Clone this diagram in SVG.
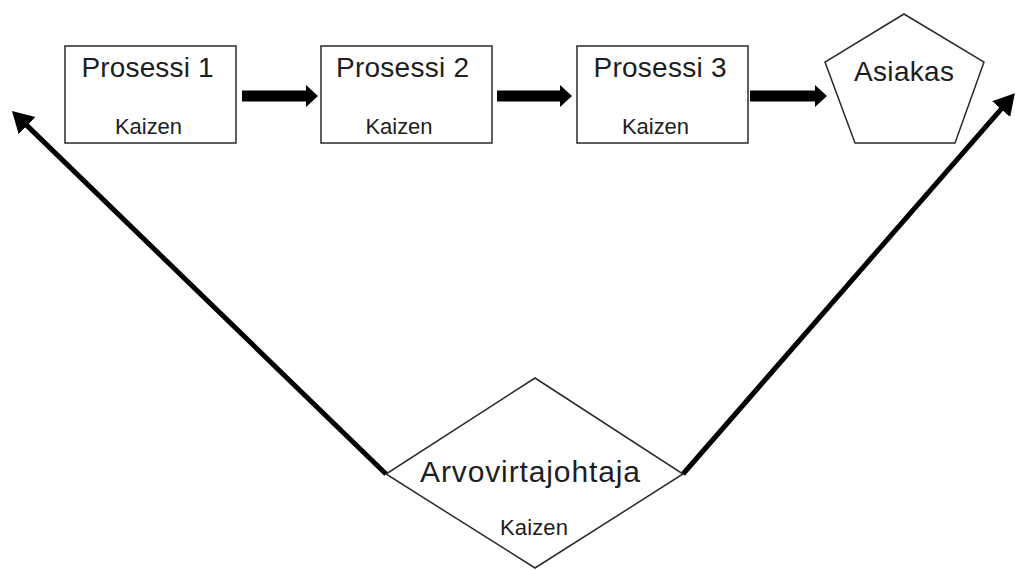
<svg xmlns="http://www.w3.org/2000/svg" width="1017" height="570" viewBox="0 0 1017 570">
<style>
.shape{fill:#fff;stroke:#2a2a2a;stroke-width:1.5}
.t{font-family:"Liberation Sans",Arial,sans-serif;fill:#1e1e1e;text-anchor:middle}
.big{font-size:28px}
.small{font-size:22px}
.flow{fill:#000}
.diag{stroke:#000;stroke-width:5;fill:none}
</style>
<defs>
<marker id="head" markerUnits="userSpaceOnUse" markerWidth="24" markerHeight="26" refX="9" refY="12" orient="auto">
<path d="M0,0 L21,12 L0,24 z" fill="#000"/>
</marker>
</defs>
<rect width="1017" height="570" fill="#fff"/>
<g id="connectors">
<path class="flow" d="M242,90.5 H306 V85 L318,96 L306,107 V101.5 H242 z"/>
<path class="flow" d="M497,90.5 H560 V85 L572,96 L560,107 V101.5 H497 z"/>
<path class="flow" d="M750,90.5 H815 V85 L827,96 L815,107 V101.5 H750 z"/>
<line class="diag" x1="386" y1="474" x2="20.6" y2="119.4" marker-end="url(#head)"/>
<line class="diag" x1="683" y1="474" x2="1007" y2="102.3" marker-end="url(#head)"/>
</g>
<g id="prosessi1">
<rect class="shape" x="65" y="46" width="171" height="97"/>
<text class="t big" x="147.5" y="77" textLength="132">Prosessi 1</text>
<text class="t small" x="148.5" y="134" textLength="67">Kaizen</text>
</g>
<g id="prosessi2">
<rect class="shape" x="321" y="46" width="171" height="97"/>
<text class="t big" x="402.5" y="77" textLength="133">Prosessi 2</text>
<text class="t small" x="399" y="134" textLength="67">Kaizen</text>
</g>
<g id="prosessi3">
<rect class="shape" x="577" y="46" width="171" height="97"/>
<text class="t big" x="660" y="77" textLength="133">Prosessi 3</text>
<text class="t small" x="655.5" y="134" textLength="67">Kaizen</text>
</g>
<g id="asiakas">
<polygon class="shape" points="904,14 984,62 955,143 855,143 825,62"/>
<text class="t big" x="904" y="81" textLength="100">Asiakas</text>
</g>
<g id="arvovirtajohtaja">
<polygon class="shape" points="535,378 683,474 535,568 386,474"/>
<text class="t" style="font-size:30px" x="530" y="482" textLength="220">Arvovirtajohtaja</text>
<text class="t small" x="534" y="535" textLength="68">Kaizen</text>
</g>
</svg>
